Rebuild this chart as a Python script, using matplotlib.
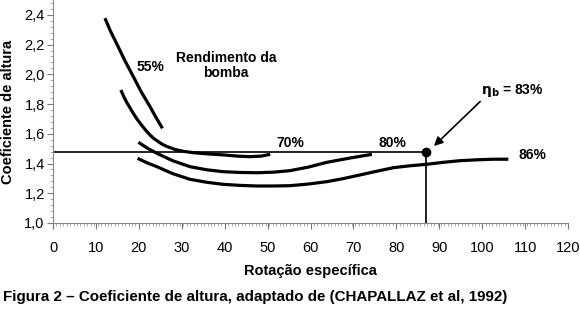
import matplotlib
matplotlib.use("Agg")
import matplotlib.pyplot as plt
from matplotlib.ticker import MultipleLocator, FuncFormatter

plt.rcParams['font.family'] = ['Liberation Sans', 'DejaVu Sans']

# Curve data
c55_x = [12.1, 13.4, 14.8, 16.7, 18.7, 20.6, 22.6, 24.0, 25.5]
c55_y = [2.378, 2.290, 2.209, 2.095, 1.985, 1.880, 1.783, 1.710, 1.637]

c70_x = [15.8, 16.5, 17.2, 18.0, 18.7, 19.6, 20.6, 21.6, 22.6, 23.5, 24.5, 25.5, 26.5, 28.5, 30.4, 33.0, 36.0, 39.7, 43.0, 45.9, 48.5, 50.6]
c70_y = [1.895, 1.850, 1.810, 1.772, 1.738, 1.698, 1.660, 1.624, 1.592, 1.568, 1.548, 1.529, 1.515, 1.494, 1.482, 1.472, 1.465, 1.458, 1.450, 1.446, 1.450, 1.462]

c80_x = [19.9, 22.0, 24.2, 27.8, 31.9, 35.8, 39.7, 43.6, 47.5, 51.4, 55.2, 59.5, 63.8, 69.0, 74.3]
c80_y = [1.543, 1.503, 1.469, 1.420, 1.379, 1.358, 1.345, 1.340, 1.338, 1.342, 1.352, 1.376, 1.408, 1.436, 1.462]

c86_x = [19.7, 21.9, 24.2, 27.8, 31.9, 35.8, 39.7, 43.6, 47.5, 51.4, 55.2, 59.5, 63.8, 67.7, 71.5, 75.4, 79.3, 83.2, 87.1, 90.9, 94.8, 98.7, 102.6, 106.1]
c86_y = [1.435, 1.405, 1.379, 1.333, 1.294, 1.274, 1.260, 1.253, 1.249, 1.249, 1.251, 1.262, 1.278, 1.299, 1.323, 1.348, 1.372, 1.385, 1.395, 1.408, 1.419, 1.425, 1.429, 1.429]

best_x = 87
best_y = 1.48

x_ticks = list(range(0, 121, 10))
y_ticks = [1.0, 1.2, 1.4, 1.6, 1.8, 2.0, 2.2, 2.4]

fig = plt.figure(figsize=(5.8, 3.15), dpi=100)
ax = fig.add_axes([53/580, 92/315, 515/580, 223/315])

for xs, ys in [(c55_x, c55_y), (c70_x, c70_y), (c80_x, c80_y), (c86_x, c86_y)]:
    ax.plot(xs, ys, color='black', lw=2.3, solid_capstyle='butt', solid_joinstyle='round')

ax.plot([0, best_x], [best_y, best_y], color='black', lw=1.2)
ax.plot([best_x, best_x], [1.0, best_y], color='black', lw=1.2)
ax.plot([best_x], [best_y], 'o', color='black', ms=6)

ax.annotate('', xy=(88.3, 1.505), xytext=(100, 1.83),
            arrowprops=dict(arrowstyle='-|>', color='black', lw=1.2, mutation_scale=13))

tk = dict(fontsize=10, fontweight='bold', color='black')
ax.text(22.8, 2.05, '55%', ha='center', va='center', **tk)
ax.text(40.3, 2.06, 'Rendimento da\nbomba', ha='center', va='center', linespacing=1.05, **tk)
ax.text(55.2, 1.54, '70%', ha='center', va='center', **tk)
ax.text(79.0, 1.54, '80%', ha='center', va='center', **tk)
ax.text(111.7, 1.455, '86%', ha='center', va='center', **tk)
ax.text(107, 1.89, r'$\mathbf{\eta_b}$ = 83%', ha='center', va='center', **tk)

ax.set_xlim(0, 120)
ax.set_ylim(1.0, 2.5)
ax.set_xticks(x_ticks)
ax.set_yticks(y_ticks)
ax.xaxis.set_minor_locator(MultipleLocator(0.8))
ax.yaxis.set_minor_locator(MultipleLocator(0.04))
ax.yaxis.set_major_formatter(FuncFormatter(lambda v, p: f"{v:.1f}".replace('.', ',')))
ax.tick_params(axis='both', which='major', labelsize=10.5, length=4, width=0.8, color='#777777')
ax.tick_params(axis='both', which='minor', length=2.5, width=0.6, color='#999999')
ax.tick_params(axis='x', pad=9)
ax.tick_params(axis='y', pad=2)

for s in ['top', 'right']:
    ax.spines[s].set_visible(False)
ax.spines['left'].set_color('#888888')
ax.spines['bottom'].set_color('#888888')

ax.set_xlabel('Rotação específica', fontsize=10.5, fontweight='bold')
ax.set_ylabel('Coeficiente de altura', fontsize=10.5, fontweight='bold')
ax.xaxis.set_label_coords(0.5, -(270.5 - 223) / 223, transform=ax.transAxes)
ax.yaxis.set_label_coords((8 - 53) / 515, 0.5, transform=ax.transAxes)
ax.xaxis.label.set_va('center')
ax.yaxis.label.set_va('center')

fig.text(3/580, 1 - 297/315, 'Figura 2 – Coeficiente de altura, adaptado de (CHAPALLAZ et al, 1992)',
         fontsize=10.9, fontweight='bold', ha='left', va='center')

fig.savefig('out.png', dpi=100)
